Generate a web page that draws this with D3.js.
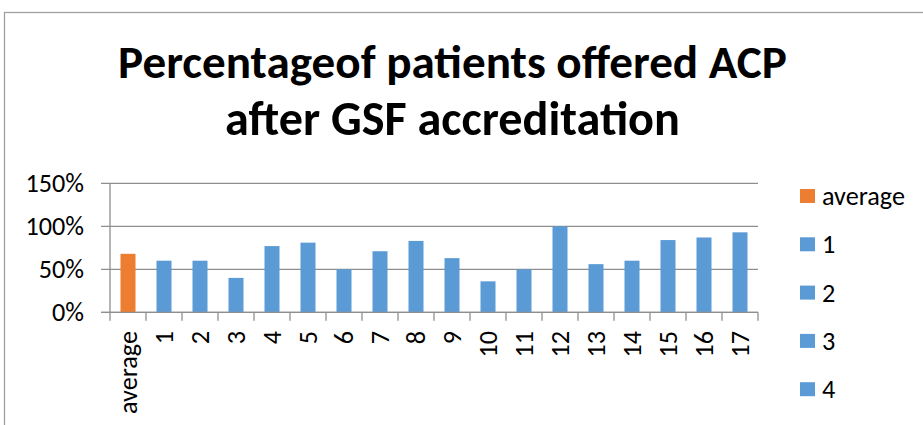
<!DOCTYPE html>
<html lang="en">
<head>
    <meta charset="UTF-8">
    <title>Percentage of patients offered ACP</title>
    <script src="https://d3js.org/d3.v7.min.js"></script>
    <style>
        body { margin: 0; background: #fff; }
        svg { display: block; }
        text { font-family: Calibri, Carlito, Lato, "Open Sans", sans-serif; fill: #000; }
    </style>
</head>
<body>
    <svg width="923" height="425"></svg>
    <script>
        // data
        var categories = ["average", "1", "2", "3", "4", "5", "6", "7", "8", "9",
                          "10", "11", "12", "13", "14", "15", "16", "17"];
        var values = [68, 60, 60, 40, 77, 81, 50, 71, 83, 63, 36, 50, 100, 56, 60, 84, 87, 93];
        var yTicks = [0, 50, 100, 150];
        var titleLines = ["Percentageof patients offered ACP", "after GSF accreditation"];

        var orange = "#ED7D31", blue = "#5B9BD5", grid = "#8E8E8E";

        var svg = d3.select("svg");

        // chart frame (only top and left edges fall inside the window)
        svg.append("rect")
            .attr("x", 4.5).attr("y", 12.5)
            .attr("width", 1000).attr("height", 1000)
            .attr("fill", "none").attr("stroke", "#A0A0A0").attr("stroke-width", 1.3);

        // scale text so its width matches a target
        function fitWidth(sel, target) {
            var w = sel.node().getComputedTextLength();
            var fs = parseFloat(sel.attr("font-size"));
            sel.attr("font-size", fs * target / w);
        }

        // measure a body font size from the legend word "average"
        var probe = svg.append("text").attr("font-size", 100).text("average");
        fitWidth(probe, 83);
        var bodySize = +probe.attr("font-size");
        probe.remove();

        // title
        var titleWidths = [669, 455];
        var titleBase = [78, 135];
        titleLines.forEach(function(t, i) {
            var tt = svg.append("text")
                .attr("x", 452.5).attr("y", titleBase[i])
                .attr("text-anchor", "middle")
                .attr("font-weight", "bold")
                .attr("font-size", 46)
                .text(t);
            fitWidth(tt, titleWidths[i]);
        });

        var band = d3.scaleBand().domain(categories).range([110, 758]);

        var y = d3.scaleLinear()
            .domain([0, 150])
            .range([312.3, 183.3]);

        // gridlines
        svg.append("g").selectAll("line")
            .data(yTicks)
            .enter().append("line")
            .attr("x1", 101).attr("x2", 758)
            .attr("y1", d => y(d)).attr("y2", d => y(d))
            .attr("stroke", grid).attr("stroke-width", 1.3);

        // y axis line
        svg.append("line")
            .attr("x1", 110).attr("x2", 110)
            .attr("y1", y(150)).attr("y2", y(0))
            .attr("stroke", grid).attr("stroke-width", 1.3);

        // y labels
        svg.append("g").selectAll("text")
            .data(yTicks)
            .enter().append("text")
            .attr("x", 84)
            .attr("y", d => y(d))
            .attr("dy", "0.35em")
            .attr("text-anchor", "end")
            .attr("font-size", bodySize)
            .text(d => d + "%");

        // x ticks at band boundaries
        var tickPos = categories.map(c => band(c)).concat([758]);
        svg.append("g").selectAll("line")
            .data(tickPos)
            .enter().append("line")
            .attr("x1", d => d).attr("x2", d => d)
            .attr("y1", y(0)).attr("y2", y(0) + 8.5)
            .attr("stroke", grid).attr("stroke-width", 1.3);

        // bars
        svg.append("g").selectAll("rect")
            .data(values)
            .enter().append("rect")
            .attr("x", (d, i) => band(categories[i]) + (band.bandwidth() - 15) / 2)
            .attr("width", 15)
            .attr("y", d => y(d))
            .attr("height", d => y(0) - y(d))
            .attr("fill", (d, i) => i === 0 ? orange : blue);

        // redraw the baseline over the bars
        svg.append("line")
            .attr("x1", 101).attr("x2", 758)
            .attr("y1", y(0)).attr("y2", y(0))
            .attr("stroke", grid).attr("stroke-width", 1.3);

        // rotated category labels
        svg.append("g").selectAll("text")
            .data(categories)
            .enter().append("text")
            .attr("transform", d => "translate(" + (band(d) + band.bandwidth() / 2) + ",331) rotate(-90)")
            .attr("dy", "0.35em")
            .attr("text-anchor", "end")
            .attr("font-size", bodySize)
            .text(d => d);

        // legend: only the entries that fit inside the window, as in the reference
        var legendStep = 48.3, legendTop = 196;
        var shown = categories.filter((d, i) => legendTop + i * legendStep < 410);

        var legend = svg.append("g").selectAll("g")
            .data(shown)
            .enter().append("g")
            .attr("transform", (d, i) => "translate(800," + (legendTop + i * legendStep) + ")");

        legend.append("rect")
            .attr("x", 0).attr("y", -7)
            .attr("width", 15).attr("height", 14)
            .attr("fill", (d, i) => i === 0 ? orange : blue);

        legend.append("text")
            .attr("x", 22)
            .attr("dy", "0.35em")
            .attr("font-size", bodySize)
            .text(d => d);
    </script>
</body>
</html>
